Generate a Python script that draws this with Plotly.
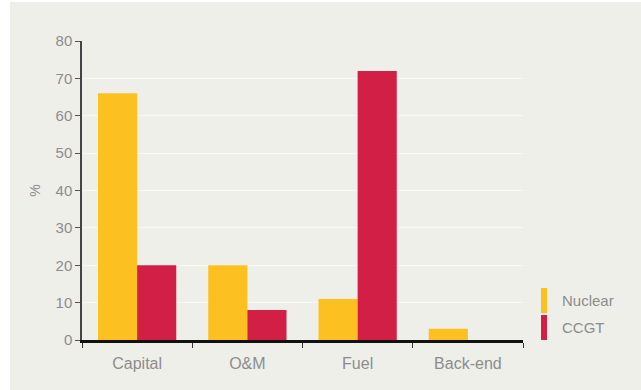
import plotly.graph_objects as go

categories = ["Capital", "O&M", "Fuel", "Back-end"]
nuclear = [66, 20, 11, 3]
ccgt = [20, 8, 72, 0]
y_ticks = [0, 10, 20, 30, 40, 50, 60, 70, 80]

NUC_COLOR = "#FDC021"
CCGT_COLOR = "#D21F45"
BG = "#EFEFEA"
TXT = "#8C8C8C"

fig = go.Figure()
fig.add_trace(go.Bar(x=categories, y=nuclear, name="Nuclear",
                     marker=dict(color=NUC_COLOR, line=dict(width=0))))
fig.add_trace(go.Bar(x=categories, y=ccgt, name="CCGT",
                     marker=dict(color=CCGT_COLOR, line=dict(width=0))))

W, H = 641, 390
L, R, T, B = 82, 118, 41, 50

# panel background with a thin white frame on the top and left
fig.add_shape(type="rect", xref="paper", yref="paper", layer="below",
              x0=(10 - L) / (W - L - R), x1=(W - L) / (W - L - R),
              y0=-B / (H - T - B), y1=(H - T - 11) / (H - T - B),
              fillcolor=BG, line=dict(width=0))

# legend drawn as tall colour keys beside the plot
pw, ph = W - L - R, H - T - B
def px(x):
    return (x - L) / pw
def py(y):
    return (H - B - y) / ph

legend_items = [("Nuclear", NUC_COLOR, 288, 313), ("CCGT", CCGT_COLOR, 315, 340)]
for label, color, top, bottom in legend_items:
    fig.add_shape(type="rect", xref="paper", yref="paper",
                  x0=px(541), x1=px(547), y0=py(bottom), y1=py(top),
                  fillcolor=color, line=dict(width=0))
    fig.add_annotation(xref="paper", yref="paper", x=px(560), y=py((top + bottom) / 2),
                       text=label, showarrow=False, xanchor="left", yanchor="middle",
                       font=dict(size=15, color=TXT))

fig.update_layout(
    width=W, height=H,
    margin=dict(l=L, r=R, t=T, b=B),
    paper_bgcolor="white",
    plot_bgcolor=BG,
    barmode="group",
    bargap=0.29,
    bargroupgap=0,
    showlegend=False,
    font=dict(family="Liberation Sans, Arial, sans-serif", color=TXT, size=15),
    xaxis=dict(
        showline=True, linecolor="#111111", linewidth=2.5,
        ticks="outside", tickson="boundaries", ticklen=5, tickcolor="#333333",
        tickwidth=1, tickfont=dict(size=16, color=TXT), showgrid=False,
        ticklabelstandoff=7,
    ),
    yaxis=dict(
        range=[0, 80], tickvals=y_ticks,
        showline=True, linecolor="#444444", linewidth=1.5,
        ticks="outside", ticklen=5, tickcolor="#555555", tickwidth=1,
        tickfont=dict(size=15, color=TXT),
        showgrid=True, gridcolor="#F8F8F5", gridwidth=1,
        zeroline=False,
        title=dict(text="%", font=dict(size=14, color=TXT), standoff=12),
    ),
)

fig.write_html("out.html")
